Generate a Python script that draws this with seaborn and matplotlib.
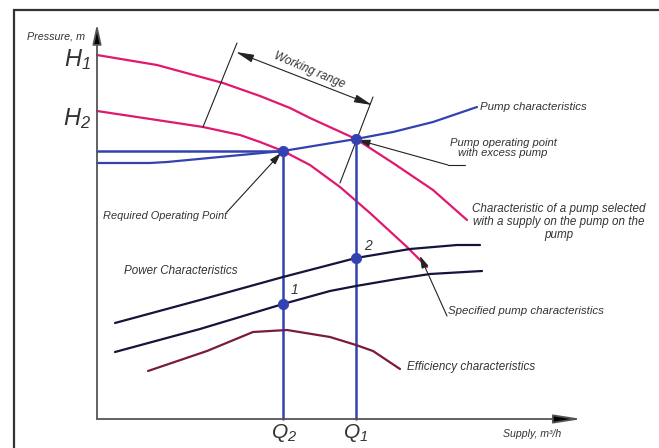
import matplotlib
matplotlib.use("Agg")
import matplotlib.pyplot as plt
from matplotlib.patches import Rectangle
from matplotlib import font_manager
import seaborn as sns
import pandas as pd

sns.set_theme(style="white")
_names = {f.name for f in font_manager.fontManager.ttflist}
_main = "Liberation Sans Narrow" if "Liberation Sans Narrow" in _names else "Liberation Sans"
plt.rcParams['font.family'] = [_main, 'DejaVu Sans']
plt.rcParams['mathtext.fontset'] = 'custom'
plt.rcParams['mathtext.it'] = _main + ':italic'
plt.rcParams['mathtext.rm'] = _main + ':italic'

# ---- data (x = supply units, y = pressure units; origin at axes corner) ----
h1_x = [0, 60, 126, 163, 193, 213, 259, 296, 336, 370]
h1_y = [364, 354, 336, 323, 311, 301, 280, 256, 229, 199]

h2_x = [0, 60, 106, 143, 163, 186, 213, 243, 273, 310, 330]
h2_y = [308, 299, 292, 284, 277, 268, 254, 232, 206, 172, 152]

pump_x = [0, 53, 70, 186, 259, 296, 336, 380]
pump_y = [256, 256, 257, 268, 280, 287, 297, 312]

power_up_x = [18, 103, 186, 259, 313, 360, 383]
power_up_y = [96, 119, 142, 161, 170, 174, 174]

power_lo_x = [18, 103, 186, 233, 259, 300, 333, 385]
power_lo_y = [67, 90, 115, 128, 133, 140, 145, 148]

eff_x = [51, 110, 156, 190, 233, 259, 276, 303]
eff_y = [48, 68, 87, 89, 82, 74, 68, 50]

Q2, Q1 = 186, 259
H_req = 268
pts_x = [Q2, Q1, Q1, Q2]
pts_y = [268, 280, 161, 115]

MAGENTA = "#e0186f"
BLUE = "#3342b0"
NAVY = "#14143c"
MAROON = "#7a1a40"
TXT = "#333333"

fig = plt.figure(figsize=(6.59, 4.48), dpi=100)
ax = fig.add_axes([0, 0, 1, 1])
ax.set_xlim(-97, 562)
ax.set_ylim(-29, 419)
ax.axis("off")

def P(px, py):
    return (px - 97, 419 - py)

# outer frame
fig.patches.append(Rectangle((14 / 659, -0.01), 1.02, 1.01 - 10 / 448, transform=fig.transFigure,
                             fill=False, edgecolor="#333333", linewidth=1.6))

def line(xs, ys, color, lw):
    df = pd.DataFrame({"x": xs, "y": ys})
    sns.lineplot(data=df, x="x", y="y", ax=ax, color=color, linewidth=lw,
                 sort=False, estimator=None)

line(h1_x, h1_y, MAGENTA, 1.6)
line(h2_x, h2_y, MAGENTA, 1.6)
line(pump_x, pump_y, BLUE, 1.6)
line([0, Q2], [H_req, H_req], BLUE, 1.8)
line([Q2, Q2], [pts_y[0], 0], BLUE, 1.8)
line([Q1, Q1], [pts_y[1], 0], BLUE, 1.8)
line(power_up_x, power_up_y, NAVY, 1.6)
line(power_lo_x, power_lo_y, NAVY, 1.6)
line(eff_x, eff_y, MAROON, 1.6)

sns.scatterplot(x=pts_x, y=pts_y, ax=ax, color=BLUE, s=55, edgecolor=BLUE, zorder=5)
ax.set_xlabel("")
ax.set_ylabel("")

# axes with arrows
ax.annotate("", xy=P(97, 24), xytext=P(97, 419),
            arrowprops=dict(arrowstyle="-|>,head_length=1.0,head_width=0.22", color="#555555",
                            lw=1.3, shrinkA=0, shrinkB=0, fc="black"))
ax.annotate("", xy=P(582, 419), xytext=P(97, 419),
            arrowprops=dict(arrowstyle="-|>,head_length=1.4,head_width=0.22", color="#555555",
                            lw=1.3, shrinkA=0, shrinkB=0, fc="black"))

thin = dict(color="#222222", lw=0.8)
ax.plot(*zip(P(237, 43), P(203, 127)), **thin)
ax.plot(*zip(P(373, 97), P(340, 183)), **thin)
ax.annotate("", xy=P(236, 52), xytext=P(372, 105),
            arrowprops=dict(arrowstyle="<|-|>,head_length=0.9,head_width=0.2", color="#222222",
                            lw=0.8, shrinkA=0, shrinkB=0))

# leaders
arr = dict(arrowstyle="-|>,head_length=0.6,head_width=0.18", color="#222222",
           lw=0.8, shrinkA=0, shrinkB=0)
ax.annotate("", xy=P(281, 153), xytext=P(227, 212), arrowprops=arr)
ax.plot(*zip(P(448, 165), P(465, 165)), **thin)
ax.annotate("", xy=P(358, 140), xytext=P(448, 165), arrowprops=arr)
ax.annotate("", xy=P(420, 256), xytext=P(447, 316), arrowprops=arr)

renderer = fig.canvas.get_renderer()

def fit(pxy, s, width, ha="left", rotation=0, **kw):
    t = ax.text(*P(*pxy), s, fontsize=10, ha=ha, va="center", style="italic",
                color=TXT, **kw)
    bb = t.get_window_extent(renderer)
    t.set_fontsize(10 * width / bb.width)
    if rotation:
        t.set_rotation(rotation)
        t.set_rotation_mode("anchor")
    return t

fit((27, 36), "Pressure, m", 58)
fit((309, 70), "Working range", 76, ha="center", rotation=-23)
fit((480, 107), "Pump characteristics", 107)
fit((503, 148), "Pump operating point\nwith excess pump", 107, ha="center",
    multialignment="center", linespacing=1.1)
fit((559, 222), "Characteristic of a pump selected\nwith a supply on the pump on the\npump", 174,
    ha="center", multialignment="center", linespacing=1.1)
fit((448, 311), "Specified pump characteristics", 156)
fit((407, 367), "Efficiency characteristics", 128)
fit((124, 271), "Power Characteristics", 113)
fit((103, 216), "Required Operating Point", 124)
fit((503, 434), "Supply, m³/h", 58)

tk = dict(color=TXT, va="center")
ax.text(*P(91, 60), r"$H_{1}$", fontsize=17, ha="right", **tk)
ax.text(*P(91, 119), r"$H_{2}$", fontsize=17, ha="right", **tk)
ax.text(*P(295, 290), "1", fontsize=10, ha="center", style="italic", **tk)
ax.text(*P(368, 246), "2", fontsize=10, ha="center", style="italic", **tk)
ax.text(*P(284, 433), r"$Q_{2}$", fontsize=15, ha="center", **tk)
ax.text(*P(356, 433), r"$Q_{1}$", fontsize=15, ha="center", **tk)

fig.savefig("out.png", dpi=100)
